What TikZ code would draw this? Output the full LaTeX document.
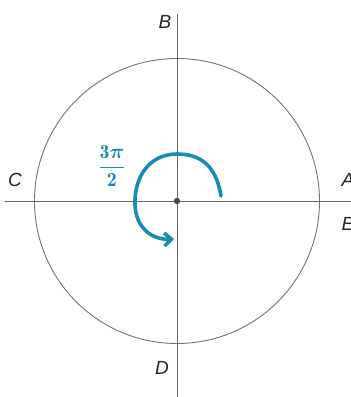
\documentclass[tikz,border=0pt]{standalone}
\usepackage{amsmath}
\usepackage{bm}
\usepackage{fontspec}
\setsansfont{Liberation Sans}
\usetikzlibrary{arrows.meta}
\definecolor{penblue}{HTML}{1A8CB4}

\begin{document}
\begin{tikzpicture}[line cap=round, line join=round, >=Stealth, x=1pt, y=-1pt,
    lbl/.style={font=\sffamily\itshape\fontsize{19}{19}\selectfont, text=black!85}]
  \useasboundingbox (0,0) rectangle (351,397);
  \coordinate (O) at (177,201);
  \coordinate (top) at (177,14);
  \coordinate (bot) at (177,397);
  \coordinate (lft) at (5,201);
  \coordinate (rgt) at (351,201);
  \draw[black!55, line width=0.9pt] (O) circle (142.5);
  \draw[black!60, line width=0.9pt] (top) -- (bot);
  \draw[black!60, line width=0.9pt] (lft) -- (rgt);
  \fill[black!70] (O) circle (3.2);
  \node[lbl] (B) at (165,22) {B};
  \node[lbl] (C) at (15,180) {C};
  \node[lbl] (D) at (162,368) {D};
  \node[lbl] (A) at (348,180) {A};
  \node[lbl] (E) at (348,224) {E};
  % the turn of 3pi/2
  \draw[penblue, line width=3.6pt, -{Straight Barb[length=7pt,width=13pt]}]
    (221,196) .. controls (216,165) and (200,154) .. (177,154)
    .. controls (150,154) and (134,176) .. (135,205)
    .. controls (136,228) and (152,240) .. (174,239);
  \node[text=penblue, font=\fontsize{20}{20}\selectfont, inner sep=0pt] (ang) at (112,166)
    {$\displaystyle\frac{\mathbf{3}\bm{\pi}}{\mathbf{2}}$};
\end{tikzpicture}
\end{document}
